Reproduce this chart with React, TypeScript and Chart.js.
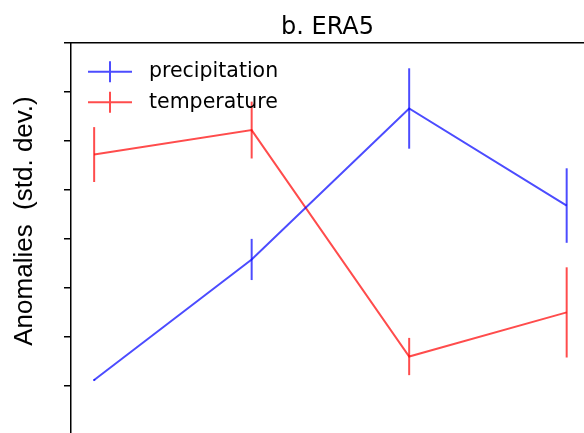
import React, { useEffect, useRef } from "react";
import { Chart, registerables } from "chart.js";

Chart.register(...registerables);

const categories = [0, 1, 2, 3];
const precipitation = [-1.44, -0.21, 1.33, 0.34];
const precipitationErr = [0.01, 0.21, 0.41, 0.38];
const temperature = [0.86, 1.11, -1.2, -0.75];
const temperatureErr = [0.28, 0.29, 0.19, 0.46];
const yTicks = [-1.5, -1, -0.5, 0, 0.5, 1, 1.5, 2];
const seriesLabels = ["precipitation", "temperature"];
const seriesColors = ["rgba(0,0,255,0.7)", "rgba(255,0,0,0.7)"];
const titleText = "b. ERA5";
const yAxisLabel = "Anomalies  (std. dev.)";

const FONT = "'DejaVu Sans', sans-serif";
const LABEL_FONT = "'Liberation Sans', Arial, sans-serif";

const errorBarPlugin = {
  id: "errorBars",
  afterDatasetsDraw(chart: any) {
    const { ctx, scales } = chart;
    const xs = scales.x;
    const ys = scales.y;
    ctx.save();
    chart.data.datasets.forEach((ds: any) => {
      ctx.strokeStyle = ds.borderColor;
      ctx.lineWidth = 2;
      ds.data.forEach((p: any, i: number) => {
        const e = ds.errors[i];
        const px = xs.getPixelForValue(p.x);
        ctx.beginPath();
        ctx.moveTo(px, ys.getPixelForValue(p.y - e));
        ctx.lineTo(px, ys.getPixelForValue(p.y + e));
        ctx.stroke();
      });
    });
    ctx.restore();
  },
};

const legendPlugin = {
  id: "innerLegend",
  afterDraw(chart: any) {
    const { ctx, chartArea } = chart;
    ctx.save();
    chart.data.datasets.forEach((ds: any, i: number) => {
      const y = chartArea.top + 29 + i * 30.5;
      const x0 = chartArea.left + 17;
      ctx.strokeStyle = ds.borderColor;
      ctx.lineWidth = 2;
      ctx.beginPath();
      ctx.moveTo(x0, y);
      ctx.lineTo(x0 + 44, y);
      ctx.moveTo(x0 + 22, y - 10.5);
      ctx.lineTo(x0 + 22, y + 10.5);
      ctx.stroke();
      ctx.fillStyle = "#000";
      ctx.font = `20.5px ${FONT}`;
      ctx.textBaseline = "middle";
      ctx.textAlign = "left";
      ctx.fillText(ds.label, chartArea.left + 78, y);
    });
    ctx.restore();
  },
};

const yLabelPlugin = {
  id: "yLabel",
  afterDraw(chart: any) {
    const { ctx } = chart;
    ctx.save();
    ctx.translate(32, 221);
    ctx.rotate(-Math.PI / 2);
    ctx.fillStyle = "#000";
    ctx.font = `26px ${LABEL_FONT}`;
    ctx.textAlign = "center";
    ctx.textBaseline = "alphabetic";
    ctx.fillText(yAxisLabel, 0, 0);
    ctx.restore();
  },
};

export default function App() {
  const ref = useRef<HTMLCanvasElement | null>(null);

  useEffect(() => {
    if (!ref.current) return;
    const chart = new Chart(ref.current, {
      type: "line",
      data: {
        datasets: [
          {
            label: seriesLabels[0],
            data: categories.map((c, i) => ({ x: c, y: precipitation[i] })),
            errors: precipitationErr,
            borderColor: seriesColors[0],
            backgroundColor: seriesColors[0],
            borderWidth: 2,
            pointRadius: 0,
            tension: 0,
            fill: false,
          } as any,
          {
            label: seriesLabels[1],
            data: categories.map((c, i) => ({ x: c, y: temperature[i] })),
            errors: temperatureErr,
            borderColor: seriesColors[1],
            backgroundColor: seriesColors[1],
            borderWidth: 2,
            pointRadius: 0,
            tension: 0,
            fill: false,
          } as any,
        ],
      },
      options: {
        responsive: false,
        animation: false,
        devicePixelRatio: 1,
        layout: { padding: { left: 64, right: 0, top: 0, bottom: 0 } },
        plugins: {
          legend: { display: false },
          tooltip: { enabled: false },
          title: {
            display: true,
            text: titleText,
            fullSize: false,
            color: "#000",
            font: { family: FONT, size: 24, weight: "normal" },
            padding: { top: 13, bottom: 1 },
          },
        },
        scales: {
          x: {
            type: "linear",
            position: "top",
            min: -0.147,
            max: 3.11,
            ticks: { display: false },
            grid: { display: false, drawTicks: false },
            border: { display: true, color: "#000", width: 1.5 },
          },
          y: {
            type: "linear",
            min: -1.98,
            max: 2.0,
            afterBuildTicks: (axis: any) => {
              axis.ticks = yTicks.map((v) => ({ value: v }));
            },
            ticks: { display: false },
            grid: {
              display: true,
              drawOnChartArea: false,
              drawTicks: true,
              tickLength: 7,
              color: "#000",
              lineWidth: 1.5,
            },
            border: { display: true, color: "#000", width: 1.5 },
          },
        },
      },
      plugins: [errorBarPlugin, legendPlugin, yLabelPlugin],
    });
    return () => chart.destroy();
  }, []);

  return (
    <div style={{ position: "fixed", left: 0, top: 0, width: 584, height: 433, background: "#fff" }}>
      <canvas ref={ref} width={584} height={433} style={{ display: "block" }} />
    </div>
  );
}
